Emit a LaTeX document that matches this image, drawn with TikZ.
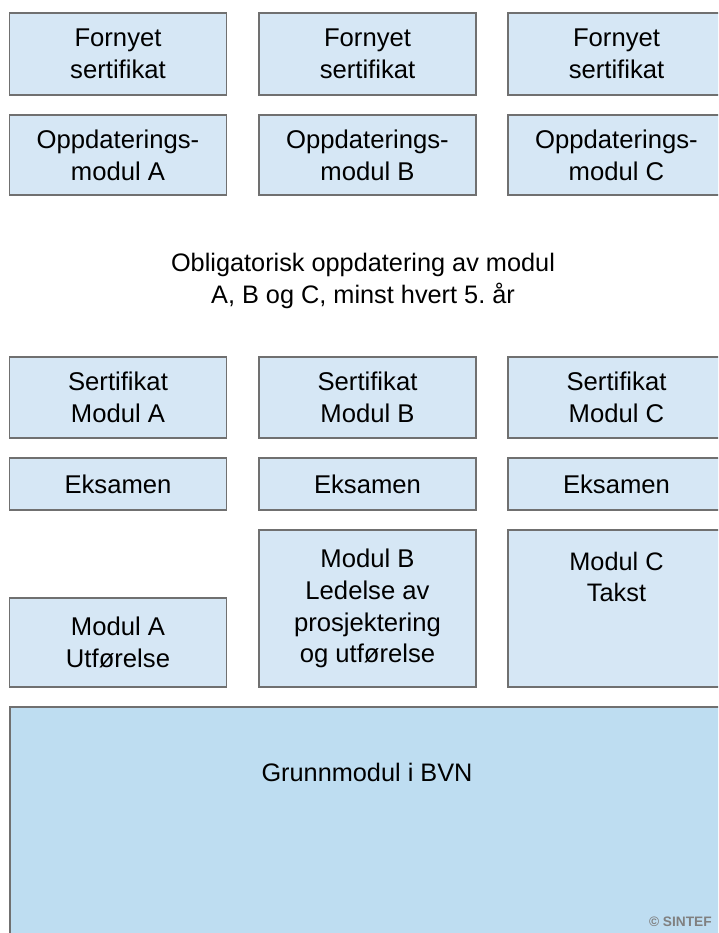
\documentclass[tikz,border=0pt]{standalone}
\usepackage{fontspec}
\setmainfont{Liberation Sans}
\usepackage{xcolor}
\usepackage{tikz}
\usetikzlibrary{positioning}

\definecolor{boxfill}{RGB}{214,231,245}
\definecolor{basefill}{RGB}{190,221,241}
\definecolor{boxline}{RGB}{112,112,112}

\tikzset{
  modbox/.style={draw=boxline, fill=boxfill, line width=0.9pt, align=center,
    minimum width=4.34cm, inner sep=0pt,
    font=\fontsize{14.6}{18.1}\selectfont},
  plaintext/.style={align=center, font=\fontsize{14.4}{18.1}\selectfont}
}

\begin{document}
\begin{tikzpicture}[x=0.02cm, y=-0.02cm]
    \useasboundingbox (0,0) rectangle (718,933);
    \clip (0,0) rectangle (718,933);

    % Fornyet sertifikat
    \node[modbox, minimum height=1.64cm] (fornyA) at (118,54) {Fornyet\\sertifikat};
    \node[modbox, minimum height=1.64cm] (fornyB) at (367.5,54) {Fornyet\\sertifikat};
    \node[modbox, minimum height=1.64cm] (fornyC) at (616.5,54) {Fornyet\\sertifikat};

    % Oppdateringsmoduler
    \node[modbox, minimum height=1.6cm] (oppdA) at (118,155) {Oppdaterings-\\modul A};
    \node[modbox, minimum height=1.6cm] (oppdB) at (367.5,155) {Oppdaterings-\\modul B};
    \node[modbox, minimum height=1.6cm] (oppdC) at (616.5,155) {Oppdaterings-\\modul C};

    \node[plaintext] (oblig) at (363,281) {Obligatorisk oppdatering av modul\\A, B og C, minst hvert 5.\ år};

    % Sertifikat
    \node[modbox, minimum height=1.62cm] (sertA) at (118,397.5) {Sertifikat\\Modul A};
    \node[modbox, minimum height=1.62cm] (sertB) at (367.5,397.5) {Sertifikat\\Modul B};
    \node[modbox, minimum height=1.62cm] (sertC) at (616.5,397.5) {Sertifikat\\Modul C};

    % Eksamen
    \node[modbox, minimum height=1.04cm] (eksA) at (118,484) {Eksamen};
    \node[modbox, minimum height=1.04cm] (eksB) at (367.5,484) {Eksamen};
    \node[modbox, minimum height=1.04cm] (eksC) at (616.5,484) {Eksamen};

    % Moduler
    \node[modbox, minimum height=1.78cm] (modA) at (118,642.5) {Modul A\\Utførelse};
    \node[modbox, minimum height=3.14cm] (modB) at (367.5,608.5) {Modul B\\Ledelse av\\prosjektering\\og utførelse};
    \draw[draw=boxline, fill=boxfill, line width=0.9pt] (508,530) rectangle (725,687);
    \node[plaintext] (modC) at (616.5,577) {Modul C\\Takst};

    % Grunnmodul
    \draw[draw=boxline, fill=basefill, line width=0.9pt] (10,707) rectangle (740,960);
    \node[plaintext] (grunn) at (367,772) {Grunnmodul i BVN};
    \node[text=gray, font=\bfseries\fontsize{7.8}{9}\selectfont, anchor=south east, inner sep=0pt] (sintef) at (712,927) {© SINTEF};
\end{tikzpicture}
\end{document}
